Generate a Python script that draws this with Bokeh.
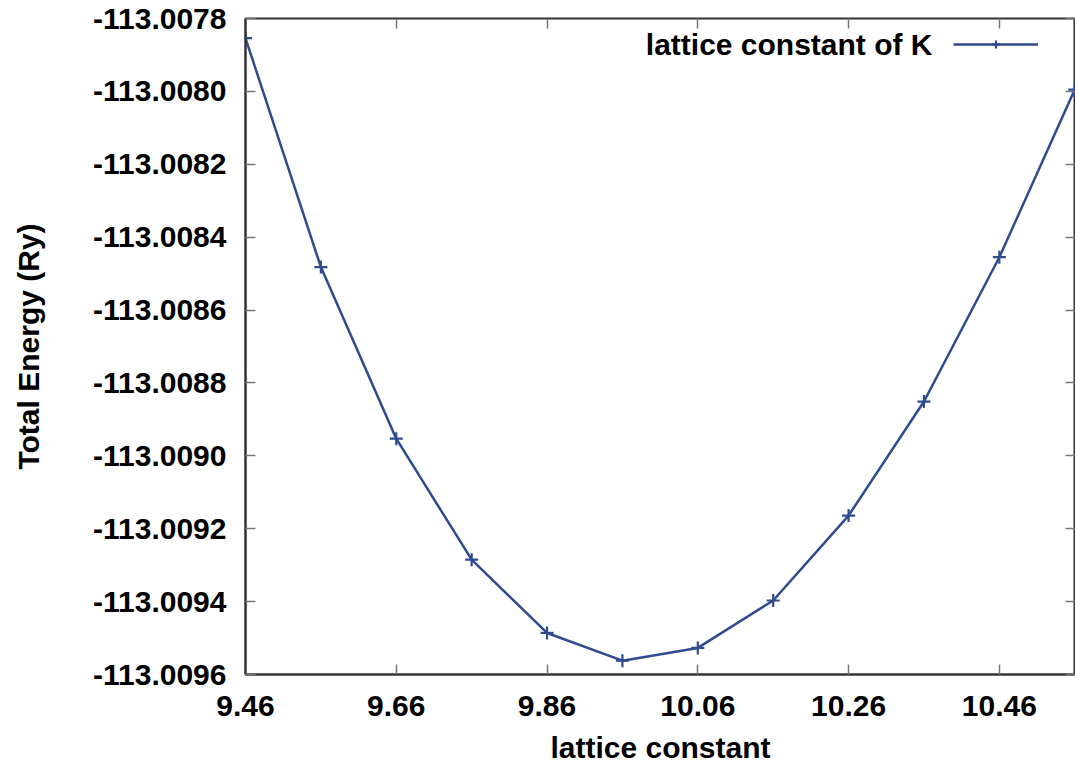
from bokeh.plotting import figure
from bokeh.models import (FixedTicker, PrintfTickFormatter, LinearAxis, Range1d,
                          Legend, LegendItem, Label, CustomJSTickFormatter)
from bokeh.core.properties import value
from bokeh.embed import file_html
from bokeh.resources import INLINE

# data
lattice = [9.46, 9.56, 9.66, 9.76, 9.86, 9.96, 10.06, 10.16, 10.26, 10.36, 10.46, 10.56]
energy = [-113.007854, -113.008482, -113.008953, -113.009285, -113.009486, -113.009562,
          -113.009527, -113.009397, -113.009164, -113.008851, -113.008455, -113.007995]
x_ticks = [9.46, 9.66, 9.86, 10.06, 10.26, 10.46]
y_ticks = [-113.0096, -113.0094, -113.0092, -113.0090, -113.0088, -113.0086,
           -113.0084, -113.0082, -113.0080, -113.0078]
series_name = "lattice constant of K"

FONT = "Liberation Sans"
COLOR = "#2f4a8e"

p = figure(width=1075, height=769, output_backend="svg", toolbar_location=None,
           x_range=Range1d(9.46, 10.561), y_range=Range1d(-113.0096, -113.0078),
           min_border_left=245, min_border_top=18, min_border_right=0,
           min_border_bottom=95)
p.grid.visible = False
p.outline_line_color = "#333333"
p.outline_line_width = 2
p.background_fill_color = "white"
p.border_fill_color = "white"

r_line = p.line(lattice, energy, line_color=COLOR, line_width=2.5)
r_pts = p.scatter(lattice, energy, marker="cross", size=13, line_width=2.2, line_color=COLOR)

def style_axis(ax, labels=True):
    ax.major_tick_in = 10
    ax.major_tick_out = 0
    ax.minor_tick_in = 0
    ax.minor_tick_out = 0
    ax.major_tick_line_color = "#777777"
    ax.major_tick_line_width = 1.5
    ax.axis_line_color = "#333333"
    ax.axis_line_width = 2
    ax.major_label_text_font = FONT
    ax.major_label_text_font_style = "bold"
    ax.major_label_text_font_size = "30px"
    ax.major_label_text_color = "black"
    ax.axis_label_text_font = FONT
    ax.axis_label_text_font_style = "bold"
    ax.axis_label_text_font_size = "30px"
    ax.axis_label_text_color = "black"
    if not labels:
        ax.formatter = CustomJSTickFormatter(code="return '';")
        ax.major_label_standoff = 0
        ax.axis_line_color = None

xa = p.xaxis[0]
xa.ticker = FixedTicker(ticks=x_ticks)
xa.formatter = PrintfTickFormatter(format="%.2f")
xa.axis_label = "lattice constant"
style_axis(xa)
xa.major_label_standoff = 21
xa.axis_label_standoff = 12

ya = p.yaxis[0]
ya.ticker = FixedTicker(ticks=y_ticks)
ya.formatter = PrintfTickFormatter(format="%.4f")
ya.axis_label = "Total Energy (Ry)"
style_axis(ya)
ya.major_label_standoff = 19
ya.axis_label_standoff = 45

top = LinearAxis(ticker=FixedTicker(ticks=x_ticks))
style_axis(top, labels=False)
p.add_layout(top, "above")
right = LinearAxis(ticker=FixedTicker(ticks=y_ticks))
style_axis(right, labels=False)
p.add_layout(right, "right")

legend = Legend(items=[LegendItem(label=value(""), renderers=[r_line, r_pts])],
                location=(708, 620), glyph_width=85, glyph_height=20,
                label_height=20, label_width=0, padding=0, margin=0, spacing=0,
                label_standoff=0, border_line_color=None,
                background_fill_alpha=0)
p.add_layout(legend)

lab = Label(x=687, y=630, x_units="screen", y_units="screen", text=series_name,
            text_align="right", text_baseline="middle", text_font=FONT,
            text_font_style="bold", text_font_size="30px", text_color="black")
p.add_layout(lab)

open("out.html", "w").write(file_html(p, INLINE))
